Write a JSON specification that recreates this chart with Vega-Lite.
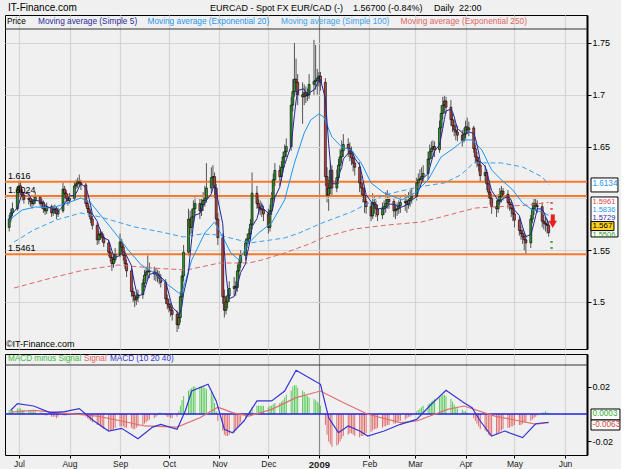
{
"$schema": "https://vega.github.io/schema/vega-lite/v6.json",
"background": "#f0f0f0",
"padding": {"left": 3, "top": 2, "right": 0, "bottom": 0},
"spacing": 3,
"resolve": {"scale": {"y": "independent"}},
"config": {"font": "Liberation Sans", "view": {"stroke": "#000", "strokeWidth": 1}},
"datasets": {
"daily": [
{"d":"2008-06-25","o":1.572,"h":1.584,"l":1.568,"c":1.580,"hs":0.003},
{"d":"2008-06-26","o":1.580,"h":1.590,"l":1.577,"c":1.586,"hs":0.003},
{"d":"2008-06-27","o":1.586,"h":1.596,"l":1.583,"c":1.590,"hs":0.003},
{"d":"2008-06-30","o":1.590,"h":1.612,"l":1.588,"c":1.608,"hs":0.004},
{"d":"2008-07-01","o":1.608,"h":1.617,"l":1.603,"c":1.612,"hs":0.004},
{"d":"2008-07-02","o":1.612,"h":1.616,"l":1.601,"c":1.606,"hs":0.004},
{"d":"2008-07-03","o":1.606,"h":1.609,"l":1.598,"c":1.603,"hs":0.003},
{"d":"2008-07-04","o":1.603,"h":1.606,"l":1.595,"c":1.599,"hs":0.003},
{"d":"2008-07-07","o":1.599,"h":1.605,"l":1.594,"c":1.600,"hs":0.003},
{"d":"2008-07-08","o":1.600,"h":1.603,"l":1.592,"c":1.597,"hs":0.002},
{"d":"2008-07-09","o":1.597,"h":1.600,"l":1.590,"c":1.595,"hs":0.002},
{"d":"2008-07-10","o":1.595,"h":1.603,"l":1.593,"c":1.598,"hs":0.002},
{"d":"2008-07-11","o":1.598,"h":1.606,"l":1.595,"c":1.601,"hs":0.002},
{"d":"2008-07-14","o":1.601,"h":1.603,"l":1.592,"c":1.595,"hs":0.001},
{"d":"2008-07-15","o":1.595,"h":1.600,"l":1.590,"c":1.596,"hs":0.001},
{"d":"2008-07-16","o":1.596,"h":1.598,"l":1.586,"c":1.590,"hs":0},
{"d":"2008-07-17","o":1.590,"h":1.594,"l":1.584,"c":1.588,"hs":-0.001},
{"d":"2008-07-18","o":1.588,"h":1.596,"l":1.585,"c":1.592,"hs":-0.001},
{"d":"2008-07-21","o":1.592,"h":1.594,"l":1.582,"c":1.586,"hs":-0.002},
{"d":"2008-07-22","o":1.586,"h":1.593,"l":1.583,"c":1.589,"hs":-0.002},
{"d":"2008-07-23","o":1.589,"h":1.594,"l":1.585,"c":1.590,"hs":-0.002},
{"d":"2008-07-24","o":1.590,"h":1.592,"l":1.580,"c":1.585,"hs":-0.003},
{"d":"2008-07-25","o":1.585,"h":1.591,"l":1.582,"c":1.588,"hs":-0.002},
{"d":"2008-07-28","o":1.588,"h":1.615,"l":1.586,"c":1.609,"hs":-0.001},
{"d":"2008-07-29","o":1.609,"h":1.612,"l":1.600,"c":1.605,"hs":-0.001},
{"d":"2008-07-30","o":1.605,"h":1.608,"l":1.596,"c":1.600,"hs":-0.001},
{"d":"2008-07-31","o":1.600,"h":1.604,"l":1.593,"c":1.598,"hs":0},
{"d":"2008-08-01","o":1.598,"h":1.605,"l":1.595,"c":1.600,"hs":0},
{"d":"2008-08-04","o":1.600,"h":1.616,"l":1.598,"c":1.612,"hs":0.001},
{"d":"2008-08-05","o":1.612,"h":1.618,"l":1.609,"c":1.614,"hs":0.001},
{"d":"2008-08-06","o":1.614,"h":1.620,"l":1.610,"c":1.616,"hs":0.001},
{"d":"2008-08-07","o":1.616,"h":1.623,"l":1.611,"c":1.615,"hs":0.001},
{"d":"2008-08-08","o":1.615,"h":1.618,"l":1.608,"c":1.613,"hs":0},
{"d":"2008-08-11","o":1.613,"h":1.615,"l":1.592,"c":1.595,"hs":-0.002},
{"d":"2008-08-12","o":1.595,"h":1.598,"l":1.586,"c":1.590,"hs":-0.003},
{"d":"2008-08-13","o":1.590,"h":1.593,"l":1.582,"c":1.586,"hs":-0.004},
{"d":"2008-08-14","o":1.586,"h":1.589,"l":1.576,"c":1.580,"hs":-0.005},
{"d":"2008-08-15","o":1.580,"h":1.583,"l":1.570,"c":1.574,"hs":-0.006},
{"d":"2008-08-18","o":1.574,"h":1.577,"l":1.555,"c":1.560,"hs":-0.008},
{"d":"2008-08-19","o":1.560,"h":1.569,"l":1.556,"c":1.565,"hs":-0.008},
{"d":"2008-08-20","o":1.565,"h":1.570,"l":1.560,"c":1.566,"hs":-0.009},
{"d":"2008-08-21","o":1.566,"h":1.568,"l":1.558,"c":1.562,"hs":-0.010},
{"d":"2008-08-22","o":1.562,"h":1.565,"l":1.553,"c":1.557,"hs":-0.011},
{"d":"2008-08-25","o":1.557,"h":1.560,"l":1.544,"c":1.548,"hs":-0.012},
{"d":"2008-08-26","o":1.548,"h":1.552,"l":1.539,"c":1.543,"hs":-0.012},
{"d":"2008-08-27","o":1.543,"h":1.547,"l":1.530,"c":1.537,"hs":-0.012},
{"d":"2008-08-28","o":1.537,"h":1.545,"l":1.533,"c":1.541,"hs":-0.011},
{"d":"2008-08-29","o":1.541,"h":1.552,"l":1.538,"c":1.546,"hs":-0.010},
{"d":"2008-09-01","o":1.546,"h":1.566,"l":1.543,"c":1.558,"hs":-0.009},
{"d":"2008-09-02","o":1.558,"h":1.561,"l":1.548,"c":1.553,"hs":-0.009},
{"d":"2008-09-03","o":1.553,"h":1.556,"l":1.540,"c":1.545,"hs":-0.009},
{"d":"2008-09-04","o":1.545,"h":1.549,"l":1.532,"c":1.537,"hs":-0.010},
{"d":"2008-09-05","o":1.537,"h":1.541,"l":1.524,"c":1.530,"hs":-0.010},
{"d":"2008-09-08","o":1.530,"h":1.533,"l":1.505,"c":1.510,"hs":-0.010},
{"d":"2008-09-09","o":1.510,"h":1.514,"l":1.500,"c":1.506,"hs":-0.011},
{"d":"2008-09-10","o":1.506,"h":1.510,"l":1.495,"c":1.502,"hs":-0.011},
{"d":"2008-09-11","o":1.502,"h":1.509,"l":1.497,"c":1.504,"hs":-0.010},
{"d":"2008-09-12","o":1.504,"h":1.512,"l":1.500,"c":1.507,"hs":-0.009},
{"d":"2008-09-15","o":1.507,"h":1.522,"l":1.503,"c":1.518,"hs":-0.008},
{"d":"2008-09-16","o":1.518,"h":1.531,"l":1.514,"c":1.526,"hs":-0.007},
{"d":"2008-09-17","o":1.526,"h":1.534,"l":1.520,"c":1.529,"hs":-0.006},
{"d":"2008-09-18","o":1.529,"h":1.545,"l":1.522,"c":1.530,"hs":-0.005},
{"d":"2008-09-19","o":1.530,"h":1.538,"l":1.523,"c":1.529,"hs":-0.004},
{"d":"2008-09-22","o":1.529,"h":1.534,"l":1.521,"c":1.527,"hs":-0.003},
{"d":"2008-09-23","o":1.527,"h":1.533,"l":1.520,"c":1.527,"hs":-0.002},
{"d":"2008-09-24","o":1.527,"h":1.531,"l":1.519,"c":1.525,"hs":-0.001},
{"d":"2008-09-25","o":1.525,"h":1.530,"l":1.517,"c":1.523,"hs":0.001},
{"d":"2008-09-26","o":1.523,"h":1.527,"l":1.514,"c":1.519,"hs":0.001},
{"d":"2008-09-29","o":1.519,"h":1.522,"l":1.498,"c":1.503,"hs":-0.001},
{"d":"2008-09-30","o":1.503,"h":1.507,"l":1.493,"c":1.498,"hs":-0.002},
{"d":"2008-10-01","o":1.498,"h":1.503,"l":1.490,"c":1.495,"hs":-0.002},
{"d":"2008-10-02","o":1.495,"h":1.499,"l":1.486,"c":1.492,"hs":-0.003},
{"d":"2008-10-03","o":1.492,"h":1.497,"l":1.482,"c":1.488,"hs":-0.003},
{"d":"2008-10-06","o":1.488,"h":1.492,"l":1.471,"c":1.478,"hs":-0.002},
{"d":"2008-10-07","o":1.478,"h":1.490,"l":1.474,"c":1.485,"hs":0.002},
{"d":"2008-10-08","o":1.485,"h":1.510,"l":1.480,"c":1.505,"hs":0.006},
{"d":"2008-10-09","o":1.505,"h":1.530,"l":1.500,"c":1.525,"hs":0.010},
{"d":"2008-10-10","o":1.525,"h":1.555,"l":1.520,"c":1.548,"hs":0.013},
{"d":"2008-10-13","o":1.548,"h":1.590,"l":1.545,"c":1.580,"hs":0.017},
{"d":"2008-10-14","o":1.580,"h":1.588,"l":1.565,"c":1.572,"hs":0.018},
{"d":"2008-10-15","o":1.572,"h":1.590,"l":1.566,"c":1.582,"hs":0.019},
{"d":"2008-10-16","o":1.582,"h":1.598,"l":1.575,"c":1.590,"hs":0.020},
{"d":"2008-10-17","o":1.590,"h":1.602,"l":1.584,"c":1.595,"hs":0.020},
{"d":"2008-10-20","o":1.595,"h":1.600,"l":1.580,"c":1.588,"hs":0.020},
{"d":"2008-10-21","o":1.588,"h":1.600,"l":1.583,"c":1.594,"hs":0.020},
{"d":"2008-10-22","o":1.594,"h":1.606,"l":1.588,"c":1.598,"hs":0.020},
{"d":"2008-10-23","o":1.598,"h":1.612,"l":1.592,"c":1.600,"hs":0.019},
{"d":"2008-10-24","o":1.600,"h":1.634,"l":1.596,"c":1.610,"hs":0.018},
{"d":"2008-10-27","o":1.610,"h":1.630,"l":1.605,"c":1.620,"hs":0.016},
{"d":"2008-10-28","o":1.620,"h":1.632,"l":1.612,"c":1.621,"hs":0.013},
{"d":"2008-10-29","o":1.621,"h":1.625,"l":1.600,"c":1.610,"hs":0.008},
{"d":"2008-10-30","o":1.610,"h":1.614,"l":1.574,"c":1.580,"hs":0.002},
{"d":"2008-10-31","o":1.580,"h":1.586,"l":1.555,"c":1.562,"hs":-0.005},
{"d":"2008-11-03","o":1.562,"h":1.566,"l":1.498,"c":1.505,"hs":-0.012},
{"d":"2008-11-04","o":1.505,"h":1.512,"l":1.485,"c":1.492,"hs":-0.015},
{"d":"2008-11-05","o":1.492,"h":1.506,"l":1.488,"c":1.500,"hs":-0.016},
{"d":"2008-11-06","o":1.500,"h":1.512,"l":1.494,"c":1.506,"hs":-0.016},
{"d":"2008-11-07","o":1.506,"h":1.520,"l":1.500,"c":1.513,"hs":-0.015},
{"d":"2008-11-10","o":1.513,"h":1.524,"l":1.506,"c":1.515,"hs":-0.014},
{"d":"2008-11-11","o":1.515,"h":1.520,"l":1.506,"c":1.514,"hs":-0.012},
{"d":"2008-11-12","o":1.514,"h":1.536,"l":1.510,"c":1.530,"hs":-0.010},
{"d":"2008-11-13","o":1.530,"h":1.542,"l":1.524,"c":1.538,"hs":-0.008},
{"d":"2008-11-14","o":1.538,"h":1.550,"l":1.533,"c":1.545,"hs":-0.006},
{"d":"2008-11-17","o":1.545,"h":1.561,"l":1.540,"c":1.557,"hs":-0.003},
{"d":"2008-11-18","o":1.557,"h":1.566,"l":1.552,"c":1.561,"hs":-0.001},
{"d":"2008-11-19","o":1.561,"h":1.571,"l":1.556,"c":1.566,"hs":0.001},
{"d":"2008-11-20","o":1.566,"h":1.580,"l":1.561,"c":1.575,"hs":0.003},
{"d":"2008-11-21","o":1.575,"h":1.625,"l":1.570,"c":1.605,"hs":0.005},
{"d":"2008-11-24","o":1.605,"h":1.612,"l":1.590,"c":1.595,"hs":0.006},
{"d":"2008-11-25","o":1.595,"h":1.602,"l":1.585,"c":1.591,"hs":0.006},
{"d":"2008-11-26","o":1.591,"h":1.598,"l":1.584,"c":1.590,"hs":0.006},
{"d":"2008-11-27","o":1.590,"h":1.596,"l":1.582,"c":1.589,"hs":0.006},
{"d":"2008-11-28","o":1.589,"h":1.593,"l":1.578,"c":1.585,"hs":0.006},
{"d":"2008-12-01","o":1.585,"h":1.590,"l":1.566,"c":1.572,"hs":0.005},
{"d":"2008-12-02","o":1.572,"h":1.594,"l":1.568,"c":1.588,"hs":0.006},
{"d":"2008-12-03","o":1.588,"h":1.606,"l":1.584,"c":1.600,"hs":0.006},
{"d":"2008-12-04","o":1.600,"h":1.624,"l":1.596,"c":1.618,"hs":0.007},
{"d":"2008-12-05","o":1.618,"h":1.634,"l":1.612,"c":1.627,"hs":0.008},
{"d":"2008-12-08","o":1.627,"h":1.632,"l":1.612,"c":1.621,"hs":0.008},
{"d":"2008-12-09","o":1.621,"h":1.636,"l":1.616,"c":1.630,"hs":0.009},
{"d":"2008-12-10","o":1.630,"h":1.645,"l":1.625,"c":1.640,"hs":0.010},
{"d":"2008-12-11","o":1.640,"h":1.652,"l":1.634,"c":1.645,"hs":0.012},
{"d":"2008-12-12","o":1.645,"h":1.658,"l":1.640,"c":1.650,"hs":0.014},
{"d":"2008-12-15","o":1.650,"h":1.698,"l":1.646,"c":1.690,"hs":0.017},
{"d":"2008-12-16","o":1.690,"h":1.715,"l":1.684,"c":1.703,"hs":0.020},
{"d":"2008-12-17","o":1.703,"h":1.750,"l":1.698,"c":1.715,"hs":0.021},
{"d":"2008-12-18","o":1.715,"h":1.735,"l":1.700,"c":1.712,"hs":0.021},
{"d":"2008-12-19","o":1.712,"h":1.720,"l":1.690,"c":1.700,"hs":0.019},
{"d":"2008-12-22","o":1.700,"h":1.712,"l":1.672,"c":1.698,"hs":0.017},
{"d":"2008-12-23","o":1.698,"h":1.710,"l":1.690,"c":1.702,"hs":0.016},
{"d":"2008-12-24","o":1.702,"h":1.708,"l":1.692,"c":1.699,"hs":0.014},
{"d":"2008-12-25","o":1.699,"h":1.706,"l":1.694,"c":1.700,"hs":0.013},
{"d":"2008-12-26","o":1.700,"h":1.720,"l":1.696,"c":1.710,"hs":0.012},
{"d":"2008-12-29","o":1.710,"h":1.753,"l":1.700,"c":1.713,"hs":0.011},
{"d":"2008-12-30","o":1.713,"h":1.748,"l":1.705,"c":1.714,"hs":0.010},
{"d":"2008-12-31","o":1.714,"h":1.725,"l":1.700,"c":1.716,"hs":0.009},
{"d":"2009-01-01","o":1.716,"h":1.722,"l":1.708,"c":1.718,"hs":0.008},
{"d":"2009-01-02","o":1.718,"h":1.722,"l":1.704,"c":1.712,"hs":0.006},
{"d":"2009-01-05","o":1.712,"h":1.716,"l":1.612,"c":1.621,"hs":-0.008},
{"d":"2009-01-06","o":1.621,"h":1.630,"l":1.596,"c":1.603,"hs":-0.015},
{"d":"2009-01-07","o":1.603,"h":1.618,"l":1.588,"c":1.610,"hs":-0.020},
{"d":"2009-01-08","o":1.610,"h":1.635,"l":1.604,"c":1.627,"hs":-0.022},
{"d":"2009-01-09","o":1.627,"h":1.632,"l":1.603,"c":1.610,"hs":-0.024},
{"d":"2009-01-12","o":1.610,"h":1.628,"l":1.606,"c":1.620,"hs":-0.023},
{"d":"2009-01-13","o":1.620,"h":1.638,"l":1.614,"c":1.632,"hs":-0.022},
{"d":"2009-01-14","o":1.632,"h":1.648,"l":1.626,"c":1.640,"hs":-0.020},
{"d":"2009-01-15","o":1.640,"h":1.656,"l":1.634,"c":1.646,"hs":-0.018},
{"d":"2009-01-16","o":1.646,"h":1.662,"l":1.640,"c":1.652,"hs":-0.016},
{"d":"2009-01-19","o":1.652,"h":1.658,"l":1.640,"c":1.648,"hs":-0.015},
{"d":"2009-01-20","o":1.648,"h":1.654,"l":1.636,"c":1.643,"hs":-0.014},
{"d":"2009-01-21","o":1.643,"h":1.650,"l":1.632,"c":1.639,"hs":-0.014},
{"d":"2009-01-22","o":1.639,"h":1.645,"l":1.626,"c":1.634,"hs":-0.015},
{"d":"2009-01-23","o":1.634,"h":1.640,"l":1.622,"c":1.630,"hs":-0.016},
{"d":"2009-01-26","o":1.630,"h":1.635,"l":1.606,"c":1.615,"hs":-0.017},
{"d":"2009-01-27","o":1.615,"h":1.622,"l":1.602,"c":1.610,"hs":-0.016},
{"d":"2009-01-28","o":1.610,"h":1.615,"l":1.596,"c":1.603,"hs":-0.016},
{"d":"2009-01-29","o":1.603,"h":1.610,"l":1.586,"c":1.597,"hs":-0.015},
{"d":"2009-01-30","o":1.597,"h":1.602,"l":1.585,"c":1.592,"hs":-0.014},
{"d":"2009-02-02","o":1.592,"h":1.596,"l":1.578,"c":1.583,"hs":-0.013},
{"d":"2009-02-03","o":1.583,"h":1.605,"l":1.580,"c":1.596,"hs":-0.012},
{"d":"2009-02-04","o":1.596,"h":1.602,"l":1.585,"c":1.594,"hs":-0.011},
{"d":"2009-02-05","o":1.594,"h":1.598,"l":1.582,"c":1.590,"hs":-0.011},
{"d":"2009-02-06","o":1.590,"h":1.594,"l":1.578,"c":1.584,"hs":-0.010},
{"d":"2009-02-09","o":1.584,"h":1.596,"l":1.580,"c":1.590,"hs":-0.010},
{"d":"2009-02-10","o":1.590,"h":1.598,"l":1.584,"c":1.592,"hs":-0.009},
{"d":"2009-02-11","o":1.592,"h":1.606,"l":1.586,"c":1.595,"hs":-0.009},
{"d":"2009-02-12","o":1.595,"h":1.608,"l":1.590,"c":1.599,"hs":-0.008},
{"d":"2009-02-13","o":1.599,"h":1.604,"l":1.590,"c":1.597,"hs":-0.008},
{"d":"2009-02-16","o":1.597,"h":1.600,"l":1.582,"c":1.588,"hs":-0.007},
{"d":"2009-02-17","o":1.588,"h":1.594,"l":1.580,"c":1.589,"hs":-0.007},
{"d":"2009-02-18","o":1.589,"h":1.596,"l":1.583,"c":1.590,"hs":-0.006},
{"d":"2009-02-19","o":1.590,"h":1.598,"l":1.585,"c":1.593,"hs":-0.005},
{"d":"2009-02-20","o":1.593,"h":1.602,"l":1.586,"c":1.596,"hs":-0.005},
{"d":"2009-02-23","o":1.596,"h":1.604,"l":1.588,"c":1.597,"hs":-0.004},
{"d":"2009-02-24","o":1.597,"h":1.602,"l":1.586,"c":1.594,"hs":-0.003},
{"d":"2009-02-25","o":1.594,"h":1.606,"l":1.590,"c":1.598,"hs":-0.002},
{"d":"2009-02-26","o":1.598,"h":1.608,"l":1.592,"c":1.600,"hs":-0.002},
{"d":"2009-02-27","o":1.600,"h":1.610,"l":1.595,"c":1.602,"hs":-0.001},
{"d":"2009-03-02","o":1.602,"h":1.620,"l":1.598,"c":1.615,"hs":0.002},
{"d":"2009-03-03","o":1.615,"h":1.624,"l":1.608,"c":1.618,"hs":0.003},
{"d":"2009-03-04","o":1.618,"h":1.628,"l":1.612,"c":1.619,"hs":0.004},
{"d":"2009-03-05","o":1.619,"h":1.630,"l":1.614,"c":1.621,"hs":0.005},
{"d":"2009-03-06","o":1.621,"h":1.632,"l":1.615,"c":1.624,"hs":0.006},
{"d":"2009-03-09","o":1.624,"h":1.645,"l":1.618,"c":1.638,"hs":0.007},
{"d":"2009-03-10","o":1.638,"h":1.652,"l":1.632,"c":1.645,"hs":0.008},
{"d":"2009-03-11","o":1.645,"h":1.655,"l":1.638,"c":1.648,"hs":0.009},
{"d":"2009-03-12","o":1.648,"h":1.656,"l":1.640,"c":1.650,"hs":0.010},
{"d":"2009-03-13","o":1.650,"h":1.655,"l":1.640,"c":1.647,"hs":0.011},
{"d":"2009-03-16","o":1.647,"h":1.675,"l":1.644,"c":1.668,"hs":0.012},
{"d":"2009-03-17","o":1.668,"h":1.690,"l":1.662,"c":1.682,"hs":0.013},
{"d":"2009-03-18","o":1.682,"h":1.698,"l":1.676,"c":1.690,"hs":0.014},
{"d":"2009-03-19","o":1.690,"h":1.699,"l":1.682,"c":1.694,"hs":0.014},
{"d":"2009-03-20","o":1.694,"h":1.698,"l":1.682,"c":1.688,"hs":0.013},
{"d":"2009-03-23","o":1.688,"h":1.695,"l":1.670,"c":1.676,"hs":0.011},
{"d":"2009-03-24","o":1.676,"h":1.682,"l":1.664,"c":1.670,"hs":0.009},
{"d":"2009-03-25","o":1.670,"h":1.676,"l":1.660,"c":1.666,"hs":0.007},
{"d":"2009-03-26","o":1.666,"h":1.672,"l":1.656,"c":1.664,"hs":0.005},
{"d":"2009-03-27","o":1.664,"h":1.670,"l":1.655,"c":1.661,"hs":0.004},
{"d":"2009-03-30","o":1.661,"h":1.666,"l":1.650,"c":1.656,"hs":0.003},
{"d":"2009-03-31","o":1.656,"h":1.668,"l":1.654,"c":1.662,"hs":0.002},
{"d":"2009-04-01","o":1.662,"h":1.675,"l":1.658,"c":1.669,"hs":0.002},
{"d":"2009-04-02","o":1.669,"h":1.678,"l":1.662,"c":1.666,"hs":0.001},
{"d":"2009-04-03","o":1.666,"h":1.674,"l":1.660,"c":1.668,"hs":0},
{"d":"2009-04-06","o":1.668,"h":1.670,"l":1.644,"c":1.648,"hs":-0.003},
{"d":"2009-04-07","o":1.648,"h":1.652,"l":1.634,"c":1.640,"hs":-0.005},
{"d":"2009-04-08","o":1.640,"h":1.645,"l":1.630,"c":1.636,"hs":-0.007},
{"d":"2009-04-09","o":1.636,"h":1.640,"l":1.626,"c":1.632,"hs":-0.009},
{"d":"2009-04-10","o":1.632,"h":1.636,"l":1.616,"c":1.622,"hs":-0.011},
{"d":"2009-04-13","o":1.622,"h":1.632,"l":1.615,"c":1.625,"hs":-0.012},
{"d":"2009-04-14","o":1.625,"h":1.628,"l":1.608,"c":1.614,"hs":-0.013},
{"d":"2009-04-15","o":1.614,"h":1.618,"l":1.600,"c":1.606,"hs":-0.015},
{"d":"2009-04-16","o":1.606,"h":1.610,"l":1.594,"c":1.600,"hs":-0.016},
{"d":"2009-04-17","o":1.600,"h":1.604,"l":1.585,"c":1.592,"hs":-0.016},
{"d":"2009-04-20","o":1.592,"h":1.598,"l":1.582,"c":1.590,"hs":-0.015},
{"d":"2009-04-21","o":1.590,"h":1.604,"l":1.586,"c":1.598,"hs":-0.014},
{"d":"2009-04-22","o":1.598,"h":1.610,"l":1.594,"c":1.602,"hs":-0.013},
{"d":"2009-04-23","o":1.602,"h":1.612,"l":1.596,"c":1.607,"hs":-0.012},
{"d":"2009-04-24","o":1.607,"h":1.610,"l":1.598,"c":1.604,"hs":-0.011},
{"d":"2009-04-27","o":1.604,"h":1.608,"l":1.590,"c":1.596,"hs":-0.010},
{"d":"2009-04-28","o":1.596,"h":1.602,"l":1.588,"c":1.594,"hs":-0.010},
{"d":"2009-04-29","o":1.594,"h":1.598,"l":1.582,"c":1.590,"hs":-0.009},
{"d":"2009-04-30","o":1.590,"h":1.594,"l":1.578,"c":1.585,"hs":-0.009},
{"d":"2009-05-01","o":1.585,"h":1.588,"l":1.572,"c":1.579,"hs":-0.008},
{"d":"2009-05-04","o":1.579,"h":1.582,"l":1.564,"c":1.569,"hs":-0.008},
{"d":"2009-05-05","o":1.569,"h":1.574,"l":1.560,"c":1.566,"hs":-0.008},
{"d":"2009-05-06","o":1.566,"h":1.570,"l":1.556,"c":1.563,"hs":-0.007},
{"d":"2009-05-07","o":1.563,"h":1.568,"l":1.550,"c":1.560,"hs":-0.006},
{"d":"2009-05-08","o":1.560,"h":1.565,"l":1.546,"c":1.557,"hs":-0.006},
{"d":"2009-05-11","o":1.557,"h":1.584,"l":1.552,"c":1.580,"hs":-0.005},
{"d":"2009-05-12","o":1.580,"h":1.596,"l":1.576,"c":1.590,"hs":-0.004},
{"d":"2009-05-13","o":1.590,"h":1.600,"l":1.584,"c":1.595,"hs":-0.003},
{"d":"2009-05-14","o":1.595,"h":1.600,"l":1.588,"c":1.593,"hs":-0.002},
{"d":"2009-05-15","o":1.593,"h":1.598,"l":1.586,"c":1.592,"hs":-0.001},
{"d":"2009-05-18","o":1.592,"h":1.596,"l":1.572,"c":1.578,"hs":0.001},
{"d":"2009-05-19","o":1.578,"h":1.584,"l":1.570,"c":1.576,"hs":0.001},
{"d":"2009-05-20","o":1.576,"h":1.582,"l":1.568,"c":1.575,"hs":0.002},
{"d":"2009-05-21","o":1.575,"h":1.580,"l":1.566,"c":1.574,"hs":0.001},
{"d":"2009-05-22","o":1.574,"h":1.578,"l":1.563,"c":1.567,"hs":0.0003}
],
"ema20": [
{"d":"2008-06-25","v":1.5792},{"d":"2008-07-03","v":1.5888},{"d":"2008-07-11","v":1.5917},{"d":"2008-07-21","v":1.5907},{"d":"2008-07-31","v":1.5956},{"d":"2008-08-08","v":1.6004},{"d":"2008-08-14","v":1.5956},{"d":"2008-08-21","v":1.582},{"d":"2008-08-29","v":1.5666},{"d":"2008-09-06","v":1.5502},{"d":"2008-09-14","v":1.5357},{"d":"2008-09-22","v":1.528},{"d":"2008-09-29","v":1.5183},{"d":"2008-10-07","v":1.5087},{"d":"2008-10-09","v":1.509},{"d":"2008-10-15","v":1.5405},{"d":"2008-10-23","v":1.5666},{"d":"2008-10-29","v":1.5772},{"d":"2008-11-03","v":1.5627},{"d":"2008-11-08","v":1.5473},{"d":"2008-11-13","v":1.5405},{"d":"2008-11-19","v":1.557},{"d":"2008-11-25","v":1.5666},{"d":"2008-12-03","v":1.5763},{"d":"2008-12-11","v":1.5985},{"d":"2008-12-17","v":1.6342},{"d":"2008-12-23","v":1.6631},{"d":"2008-12-27","v":1.6757},{"d":"2009-01-01","v":1.6815},{"d":"2009-01-04","v":1.6786},{"d":"2009-01-09","v":1.6593},{"d":"2009-01-15","v":1.6496},{"d":"2009-01-21","v":1.6467},{"d":"2009-01-27","v":1.6342},{"d":"2009-02-02","v":1.6149},{"d":"2009-02-10","v":1.6052},{"d":"2009-02-21","v":1.5985},{"d":"2009-03-01","v":1.6052},{"d":"2009-03-09","v":1.6178},{"d":"2009-03-17","v":1.64},{"d":"2009-03-25","v":1.6487},{"d":"2009-03-31","v":1.6564},{"d":"2009-04-05","v":1.6564},{"d":"2009-04-11","v":1.6467},{"d":"2009-04-17","v":1.6274},{"d":"2009-04-23","v":1.6178},{"d":"2009-04-30","v":1.6081},{"d":"2009-05-06","v":1.5956},{"d":"2009-05-12","v":1.5888},{"d":"2009-05-18","v":1.5869},{"d":"2009-05-22","v":1.5836}
],
"sma100": [
{"d":"2008-06-28","v":1.5579},{"d":"2008-07-10","v":1.5695},{"d":"2008-07-24","v":1.5792},{"d":"2008-08-08","v":1.5859},{"d":"2008-08-20","v":1.582},{"d":"2008-09-10","v":1.5724},{"d":"2008-09-26","v":1.5676},{"d":"2008-10-10","v":1.5627},{"d":"2008-10-21","v":1.5656},{"d":"2008-10-31","v":1.5647},{"d":"2008-11-20","v":1.557},{"d":"2008-12-11","v":1.5618},{"d":"2008-12-20","v":1.5666},{"d":"2009-01-03","v":1.5763},{"d":"2009-01-21","v":1.5869},{"d":"2009-02-10","v":1.6033},{"d":"2009-03-03","v":1.611},{"d":"2009-03-19","v":1.6149},{"d":"2009-03-29","v":1.6226},{"d":"2009-04-06","v":1.6342},{"d":"2009-04-23","v":1.6342},{"d":"2009-05-06","v":1.6303},{"d":"2009-05-18","v":1.6207},{"d":"2009-05-22","v":1.6134}
],
"ema250": [
{"d":"2008-06-28","v":1.5135},{"d":"2008-07-21","v":1.5232},{"d":"2008-08-10","v":1.5309},{"d":"2008-08-31","v":1.5357},{"d":"2008-09-20","v":1.5328},{"d":"2008-10-12","v":1.5309},{"d":"2008-11-01","v":1.5376},{"d":"2008-11-19","v":1.5376},{"d":"2008-11-27","v":1.5405},{"d":"2008-12-11","v":1.5473},{"d":"2008-12-27","v":1.5565},{"d":"2009-01-04","v":1.5625},{"d":"2009-01-23","v":1.5705},{"d":"2009-02-12","v":1.5743},{"d":"2009-03-05","v":1.5772},{"d":"2009-03-17","v":1.582},{"d":"2009-04-07","v":1.5907},{"d":"2009-04-27","v":1.5925},{"d":"2009-05-09","v":1.5935},{"d":"2009-05-22","v":1.5961}
],
"macd": [
{"d":"2008-06-26","v":0.0027},{"d":"2008-06-30","v":0.0075},{"d":"2008-07-10","v":0.0058},{"d":"2008-07-20","v":0.001},{"d":"2008-07-29","v":0.0017},{"d":"2008-08-07","v":0.0039},{"d":"2008-08-16","v":-0.0051},{"d":"2008-08-25","v":-0.0124},{"d":"2008-09-02","v":-0.0104},{"d":"2008-09-12","v":-0.018},{"d":"2008-09-21","v":-0.0095},{"d":"2008-09-26","v":-0.0075},{"d":"2008-10-06","v":-0.0111},{"d":"2008-10-11","v":0.0022},{"d":"2008-10-15","v":0.0167},{"d":"2008-10-25","v":0.0216},{"d":"2008-10-30","v":0.0095},{"d":"2008-11-04","v":-0.0111},{"d":"2008-11-09","v":-0.0136},{"d":"2008-11-16","v":-0.0051},{"d":"2008-11-24","v":0.0095},{"d":"2008-12-03","v":0.0095},{"d":"2008-12-11","v":0.0167},{"d":"2008-12-18","v":0.0318},{"d":"2008-12-26","v":0.0264},{"d":"2009-01-02","v":0.0216},{"d":"2009-01-07","v":-0.0027},{"d":"2009-01-13","v":-0.0136},{"d":"2009-01-19","v":-0.0087},{"d":"2009-01-26","v":-0.0124},{"d":"2009-01-31","v":-0.016},{"d":"2009-02-10","v":-0.0124},{"d":"2009-02-20","v":-0.0075},{"d":"2009-03-02","v":-0.0039},{"d":"2009-03-11","v":0.0071},{"d":"2009-03-20","v":0.0172},{"d":"2009-03-31","v":0.0082},{"d":"2009-04-05","v":0.0046},{"d":"2009-04-10","v":-0.0051},{"d":"2009-04-17","v":-0.016},{"d":"2009-04-25","v":-0.0124},{"d":"2009-05-06","v":-0.0172},{"d":"2009-05-14","v":-0.0071},{"d":"2009-05-22","v":-0.006}
],
"sig": [
{"d":"2008-06-26","v":0.0014},{"d":"2008-07-10","v":0.0027},{"d":"2008-07-29","v":0.0007},{"d":"2008-08-18","v":-0.0015},{"d":"2008-09-02","v":-0.0051},{"d":"2008-09-16","v":-0.0087},{"d":"2008-10-06","v":-0.0095},{"d":"2008-10-20","v":-0.0027},{"d":"2008-10-31","v":0.005},{"d":"2008-11-09","v":0.001},{"d":"2008-11-19","v":-0.0015},{"d":"2008-12-03","v":0.0034},{"d":"2008-12-18","v":0.0119},{"d":"2009-01-02","v":0.0167},{"d":"2009-01-14","v":0.0095},{"d":"2009-01-31","v":-0.0002},{"d":"2009-02-20","v":-0.0063},{"d":"2009-03-02","v":-0.0051},{"d":"2009-03-21","v":0.0034},{"d":"2009-03-31","v":0.0058},{"d":"2009-04-19","v":-0.0015},{"d":"2009-05-04","v":-0.0051},{"d":"2009-05-14","v":-0.0073},{"d":"2009-05-22","v":-0.0063}
],
"levels": [{"v":1.616,"t":"1.616"},{"v":1.6024,"t":"1.6024"},{"v":1.5461,"t":"1.5461"}],
"piv": [{"v":1.5956,"k":"r"},{"v":1.5898,"k":"r"},{"v":1.5579,"k":"g"},{"v":1.5521,"k":"g"}]
},
"vconcat": [
{
"width": 582, "height": 334,
"layer": [
{"data": {"name": "daily"}, "mark": {"type": "rule", "color": "#555", "strokeWidth": 1},
 "encoding": {
  "x": {"field": "d", "type": "temporal", "title": null,
   "scale": {"type": "utc", "nice": false, "padding": 0, "domain": [{"year":2008,"month":6,"date":22,"hours":10,"utc":true},{"year":2009,"month":6,"date":14,"hours":12,"utc":true}]},
   "axis": {"title": null, "labels": false, "ticks": false, "domain": false, "grid": true, "gridWidth": 1.2,
    "gridColor": {"condition": {"test": "utcmonth(datum.value) == 0", "value": "#8a8a8a"}, "value": "#d4d4d4"},
    "values": [{"year":2008,"month":7,"date":1,"utc":true},{"year":2008,"month":8,"date":1,"utc":true},{"year":2008,"month":9,"date":1,"utc":true},{"year":2008,"month":10,"date":1,"utc":true},{"year":2008,"month":11,"date":1,"utc":true},{"year":2008,"month":12,"date":1,"utc":true},{"year":2009,"month":1,"date":1,"utc":true},{"year":2009,"month":2,"date":1,"utc":true},{"year":2009,"month":3,"date":1,"utc":true},{"year":2009,"month":4,"date":1,"utc":true},{"year":2009,"month":5,"date":1,"utc":true},{"year":2009,"month":6,"date":1,"utc":true}]}},
  "y": {"field": "l", "type": "quantitative", "title": null,
   "scale": {"domain": [1.4546, 1.777], "nice": false, "zero": false},
   "axis": {"title": null, "orient": "right", "values": [1.5, 1.55, 1.65, 1.7, 1.75], "format": ".2~f", "grid": true, "gridColor": "#d4d4d4", "gridWidth": 1.2, "domain": true, "domainColor": "#000", "domainWidth": 2, "tickColor": "#000", "tickSize": 4, "labelFontSize": 9, "labelColor": "#000", "labelPadding": 1}},
  "y2": {"field": "h"}
 }},
{"data": {"values": [{}]}, "mark": {"type": "rule", "color": "#d4d4d4", "strokeWidth": 1.2}, "encoding": {"y": {"datum": 1.6}}},
{"data": {"name": "levels"}, "mark": {"type": "rule", "color": "#f47a2c", "strokeWidth": 2}, "encoding": {"y": {"field": "v", "type": "quantitative", "title": null}}},
{"data": {"values": [{}]}, "mark": {"type": "rule", "color": "#333", "strokeWidth": 1}, "encoding": {"y": {"datum": 1.7635}}},
{"data": {"name": "daily"}, "mark": {"type": "bar", "width": 2, "stroke": "#000", "strokeWidth": 0.6},
 "encoding": {"x": {"field": "d", "type": "temporal", "title": null}, "y": {"field": "o", "type": "quantitative", "title": null}, "y2": {"field": "c"},
  "fill": {"condition": {"test": "datum.c >= datum.o", "value": "#2f9a2f"}, "value": "#c04444"}}},
{"data": {"name": "ema250"}, "mark": {"type": "line", "color": "#e06464", "strokeWidth": 1, "strokeDash": [5, 3]}, "encoding": {"x": {"field": "d", "type": "temporal", "title": null}, "y": {"field": "v", "type": "quantitative", "title": null}}},
{"data": {"name": "sma100"}, "mark": {"type": "line", "color": "#3aa0ee", "strokeWidth": 1, "strokeDash": [5, 3]}, "encoding": {"x": {"field": "d", "type": "temporal", "title": null}, "y": {"field": "v", "type": "quantitative", "title": null}}},
{"data": {"name": "ema20"}, "mark": {"type": "line", "color": "#1e96f0", "strokeWidth": 1}, "encoding": {"x": {"field": "d", "type": "temporal", "title": null}, "y": {"field": "v", "type": "quantitative", "title": null}}},
{"data": {"name": "daily"}, "transform": [{"window": [{"op": "mean", "field": "c", "as": "s5"}], "frame": [-4, 0], "sort": [{"field": "d"}]}],
 "mark": {"type": "line", "color": "#23239a", "strokeWidth": 1}, "encoding": {"x": {"field": "d", "type": "temporal", "title": null}, "y": {"field": "s5", "type": "quantitative", "title": null}}},
{"data": {"name": "levels"}, "mark": {"type": "text", "align": "left", "baseline": "middle", "dy": -6, "fontSize": 9, "color": "#000"},
 "encoding": {"x": {"datum": {"year":2008,"month":6,"date":24,"hours":6,"utc":true}, "type": "temporal"}, "y": {"field": "v", "type": "quantitative", "title": null}, "text": {"field": "t"}}},
{"data": {"name": "piv"}, "mark": {"type": "rule", "strokeWidth": 1.5},
 "encoding": {"x": {"datum": {"year":2009,"month":5,"date":23,"utc":true}, "type": "temporal"}, "x2": {"datum": {"year":2009,"month":5,"date":24,"hours":12,"utc":true}}, "y": {"field": "v", "type": "quantitative", "title": null},
  "color": {"condition": {"test": "datum.k == 'r'", "value": "#e03030"}, "value": "#208a20"}}},
{"data": {"values": [{}]}, "mark": {"type": "rule", "color": "#e82020", "strokeWidth": 4},
 "encoding": {"x": {"datum": {"year":2009,"month":5,"date":24,"hours":12,"utc":true}, "type": "temporal"}, "y": {"datum": 1.5845}, "y2": {"datum": 1.5775}}},
{"data": {"values": [{}]}, "mark": {"type": "point", "shape": "triangle-down", "size": 70, "filled": true, "color": "#e82020", "opacity": 1},
 "encoding": {"x": {"datum": {"year":2009,"month":5,"date":24,"hours":12,"utc":true}, "type": "temporal"}, "y": {"datum": 1.5748}}},
{"data": {"values": [{}]}, "mark": {"type": "text", "align": "left", "baseline": "middle", "fontSize": 10, "color": "#000"},
 "encoding": {"x": {"datum": {"year":2008,"month":6,"date":24,"hours":6,"utc":true}, "type": "temporal"}, "y": {"datum": 1.7838}, "text": {"value": "IT-Finance.com"}}},
{"data": {"values": [{}]}, "mark": {"type": "text", "align": "left", "baseline": "middle", "fontSize": 9, "color": "#000"},
 "encoding": {"x": {"datum": {"year":2008,"month":10,"date":26,"hours":4,"utc":true}, "type": "temporal"}, "y": {"datum": 1.7838}, "text": {"value": "EURCAD - Spot FX EUR/CAD (-)"}}},
{"data": {"values": [{}]}, "mark": {"type": "text", "align": "left", "baseline": "middle", "fontSize": 9, "color": "#000"},
 "encoding": {"x": {"datum": {"year":2009,"month":1,"date":21,"hours":22,"utc":true}, "type": "temporal"}, "y": {"datum": 1.7838}, "text": {"value": "1.56700 (-0.84%)"}}},
{"data": {"values": [{}]}, "mark": {"type": "text", "align": "left", "baseline": "middle", "fontSize": 9, "color": "#000"},
 "encoding": {"x": {"datum": {"year":2009,"month":3,"date":12,"hours":14,"utc":true}, "type": "temporal"}, "y": {"datum": 1.7838}, "text": {"value": "Daily\u00a0\u00a022:00"}}},
{"data": {"values": [{}]}, "mark": {"type": "text", "align": "left", "baseline": "middle", "fontSize": 8.3, "color": "#000"},
 "encoding": {"x": {"datum": {"year":2008,"month":6,"date":23,"hours":15,"utc":true}, "type": "temporal"}, "y": {"datum": 1.7703}, "text": {"value": "Price"}}},
{"data": {"values": [{}]}, "mark": {"type": "text", "align": "left", "baseline": "middle", "fontSize": 8.3, "color": "#2a2aa0"},
 "encoding": {"x": {"datum": {"year":2008,"month":7,"date":12,"hours":16,"utc":true}, "type": "temporal"}, "y": {"datum": 1.7703}, "text": {"value": "Moving average (Simple 5)"}}},
{"data": {"values": [{}]}, "mark": {"type": "text", "align": "left", "baseline": "middle", "fontSize": 8.3, "color": "#1e96f0"},
 "encoding": {"x": {"datum": {"year":2008,"month":9,"date":17,"hours":20,"utc":true}, "type": "temporal"}, "y": {"datum": 1.7703}, "text": {"value": "Moving average (Exponential 20)"}}},
{"data": {"values": [{}]}, "mark": {"type": "text", "align": "left", "baseline": "middle", "fontSize": 8.3, "color": "#3aa0ee"},
 "encoding": {"x": {"datum": {"year":2008,"month":12,"date":8,"hours":18,"utc":true}, "type": "temporal"}, "y": {"datum": 1.7703}, "text": {"value": "Moving average (Simple 100)"}}},
{"data": {"values": [{}]}, "mark": {"type": "text", "align": "left", "baseline": "middle", "fontSize": 8.3, "color": "#e06464"},
 "encoding": {"x": {"datum": {"year":2009,"month":2,"date":20,"hours":3,"utc":true}, "type": "temporal"}, "y": {"datum": 1.7703}, "text": {"value": "Moving average (Exponential 250)"}}},
{"data": {"values": [{}]}, "mark": {"type": "text", "align": "left", "baseline": "middle", "fontSize": 9, "color": "#000"},
 "encoding": {"x": {"datum": {"year":2008,"month":6,"date":23,"hours":0,"utc":true}, "type": "temporal"}, "y": {"datum": 1.4595}, "text": {"value": "©IT-Finance.com"}}},
{"data": {"values": [{}]}, "mark": {"type": "rect", "fill": "#fff", "stroke": "#000", "strokeWidth": 1},
 "encoding": {"x": {"datum": {"year":2009,"month":6,"date":16,"hours":23,"utc":true}, "type": "temporal"}, "x2": {"datum": {"year":2009,"month":7,"date":3,"hours":12,"utc":true}}, "y": {"datum": 1.61969}, "y2": {"datum": 1.60618}}},
{"data": {"values": [{}]}, "mark": {"type": "rect", "fill": "#fff", "stroke": "#000", "strokeWidth": 1},
 "encoding": {"x": {"datum": {"year":2009,"month":6,"date":16,"hours":23,"utc":true}, "type": "temporal"}, "x2": {"datum": {"year":2009,"month":7,"date":3,"hours":12,"utc":true}}, "y": {"datum": 1.60135}, "y2": {"datum": 1.56275}}},
{"data": {"values": [{}]}, "mark": {"type": "text", "align": "left", "baseline": "middle", "fontSize": 8.2, "color": "#1e96f0"},
 "encoding": {"x": {"datum": {"year":2009,"month":6,"date":17,"hours":20,"utc":true}, "type": "temporal"}, "y": {"datum": 1.6134}, "text": {"value": "1.6134"}}},
{"data": {"values": [{}]}, "mark": {"type": "text", "align": "left", "baseline": "middle", "fontSize": 7.5, "color": "#e03c3c"},
 "encoding": {"x": {"datum": {"year":2009,"month":6,"date":17,"hours":20,"utc":true}, "type": "temporal"}, "y": {"datum": 1.5961}, "text": {"value": "1.5961"}}},
{"data": {"values": [{}]}, "mark": {"type": "text", "align": "left", "baseline": "middle", "fontSize": 7.5, "color": "#1e96f0", "dy": -4.9},
 "encoding": {"x": {"datum": {"year":2009,"month":6,"date":17,"hours":20,"utc":true}, "type": "temporal"}, "y": {"datum": 1.5836}, "text": {"value": "1.5836"}}},
{"data": {"values": [{}]}, "mark": {"type": "text", "align": "left", "baseline": "middle", "fontSize": 7.5, "color": "#2a2aa0", "dy": -8},
 "encoding": {"x": {"datum": {"year":2009,"month":6,"date":17,"hours":20,"utc":true}, "type": "temporal"}, "y": {"datum": 1.5729}, "text": {"value": "1.5729"}}},
{"data": {"values": [{}]}, "mark": {"type": "text", "align": "left", "baseline": "middle", "fontSize": 7.5, "color": "#2f9a2f", "dy": -15},
 "encoding": {"x": {"datum": {"year":2009,"month":6,"date":17,"hours":20,"utc":true}, "type": "temporal"}, "y": {"datum": 1.5506}, "text": {"value": "1.5506"}}},
{"data": {"values": [{}]}, "mark": {"type": "rect", "fill": "#ffd21f", "stroke": "#000", "strokeWidth": 1},
 "encoding": {"x": {"datum": {"year":2009,"month":6,"date":16,"hours":23,"utc":true}, "type": "temporal"}, "x2": {"datum": {"year":2009,"month":7,"date":1,"hours":1,"utc":true}}, "y": {"datum": 1.5776}, "y2": {"datum": 1.5689}}},
{"data": {"values": [{}]}, "mark": {"type": "text", "align": "left", "baseline": "middle", "fontSize": 8, "color": "#000", "dy": -6.5},
 "encoding": {"x": {"datum": {"year":2009,"month":6,"date":17,"hours":20,"utc":true}, "type": "temporal"}, "y": {"datum": 1.567}, "text": {"value": "1.567"}}}
]
},
{
"width": 582, "height": 101,
"layer": [
{"data": {"name": "daily"}, "mark": {"type": "rule", "strokeWidth": 1},
 "encoding": {
  "x": {"field": "d", "type": "temporal", "title": null,
   "scale": {"type": "utc", "nice": false, "padding": 0, "domain": [{"year":2008,"month":6,"date":22,"hours":10,"utc":true},{"year":2009,"month":6,"date":14,"hours":12,"utc":true}]},
   "axis": {"title": null, "orient": "bottom", "domain": false, "grid": true, "gridWidth": 1.2,
    "gridColor": {"condition": {"test": "utcmonth(datum.value) == 0", "value": "#8a8a8a"}, "value": "#d4d4d4"},
    "ticks": true, "tickColor": "#000", "tickSize": 3, "labelPadding": 1, "labelColor": "#222",
    "labelFontSize": {"condition": {"test": "utcmonth(datum.value) == 0", "value": 9.5}, "value": 8.5},
    "labelFontWeight": {"condition": {"test": "utcmonth(datum.value) == 0", "value": "bold"}, "value": "normal"},
    "labelExpr": "utcmonth(datum.value) == 0 ? '2009' : utcFormat(datum.value, '%b')",
    "values": [{"year":2008,"month":7,"date":1,"utc":true},{"year":2008,"month":8,"date":1,"utc":true},{"year":2008,"month":9,"date":1,"utc":true},{"year":2008,"month":10,"date":1,"utc":true},{"year":2008,"month":11,"date":1,"utc":true},{"year":2008,"month":12,"date":1,"utc":true},{"year":2009,"month":1,"date":1,"utc":true},{"year":2009,"month":2,"date":1,"utc":true},{"year":2009,"month":3,"date":1,"utc":true},{"year":2009,"month":4,"date":1,"utc":true},{"year":2009,"month":5,"date":1,"utc":true},{"year":2009,"month":6,"date":1,"utc":true}]}},
  "y": {"field": "hs", "type": "quantitative", "title": null,
   "scale": {"domain": [-0.02982, 0.04364], "nice": false, "zero": false},
   "axis": {"title": null, "orient": "right", "values": [-0.02, 0.02], "labelExpr": "(datum.value < 0 ? '-' : '') + format(abs(datum.value), '.2f')", "grid": false, "domain": true, "domainColor": "#000", "domainWidth": 2, "tickColor": "#000", "tickSize": 4, "labelFontSize": 9, "labelColor": "#000", "labelPadding": 1}},
  "y2": {"datum": 0},
  "color": {"condition": {"test": "datum.hs > 0", "value": "#5acd5a"}, "value": "#e06c6c"}
 }},
{"data": {"values": [{}]}, "mark": {"type": "rule", "color": "#2020e0", "strokeWidth": 1.5}, "encoding": {"y": {"datum": 0}}},
{"data": {"name": "sig"}, "mark": {"type": "line", "color": "#e07070", "strokeWidth": 1.2}, "encoding": {"x": {"field": "d", "type": "temporal", "title": null}, "y": {"field": "v", "type": "quantitative", "title": null}}},
{"data": {"name": "macd"}, "mark": {"type": "line", "color": "#3535d5", "strokeWidth": 1.2}, "encoding": {"x": {"field": "d", "type": "temporal", "title": null}, "y": {"field": "v", "type": "quantitative", "title": null}}},
{"data": {"values": [{}]}, "mark": {"type": "rule", "color": "#333", "strokeWidth": 1}, "encoding": {"y": {"datum": 0.03564}}},
{"data": {"values": [{}]}, "mark": {"type": "text", "align": "left", "baseline": "middle", "fontSize": 8.2, "color": "#3cbc3c"},
 "encoding": {"x": {"datum": {"year":2008,"month":6,"date":24,"hours":6,"utc":true}, "type": "temporal"}, "y": {"datum": 0.03964}, "text": {"value": "MACD minus Signal"}}},
{"data": {"values": [{}]}, "mark": {"type": "text", "align": "left", "baseline": "middle", "fontSize": 8.2, "color": "#e06464"},
 "encoding": {"x": {"datum": {"year":2008,"month":8,"date":9,"hours":21,"utc":true}, "type": "temporal"}, "y": {"datum": 0.03964}, "text": {"value": "Signal"}}},
{"data": {"values": [{}]}, "mark": {"type": "text", "align": "left", "baseline": "middle", "fontSize": 8.2, "color": "#3535d5"},
 "encoding": {"x": {"datum": {"year":2008,"month":8,"date":25,"hours":20,"utc":true}, "type": "temporal"}, "y": {"datum": 0.03964}, "text": {"value": "MACD (10 20 40)"}}},
{"data": {"values": [{}]}, "mark": {"type": "rect", "fill": "#fff", "stroke": "#000", "strokeWidth": 1},
 "encoding": {"x": {"datum": {"year":2009,"month":6,"date":16,"hours":23,"utc":true}, "type": "temporal"}, "x2": {"datum": {"year":2009,"month":7,"date":4,"hours":17,"utc":true}}, "y": {"datum": 0.00364}, "y2": {"datum": -0.00436}}},
{"data": {"values": [{}]}, "mark": {"type": "rect", "fill": "#fff", "stroke": "#000", "strokeWidth": 1},
 "encoding": {"x": {"datum": {"year":2009,"month":6,"date":16,"hours":23,"utc":true}, "type": "temporal"}, "x2": {"datum": {"year":2009,"month":7,"date":4,"hours":17,"utc":true}}, "y": {"datum": -0.00436}, "y2": {"datum": -0.01164}}},
{"data": {"values": [{}]}, "mark": {"type": "text", "align": "left", "baseline": "middle", "fontSize": 8.2, "color": "#2faa2f"},
 "encoding": {"x": {"datum": {"year":2009,"month":6,"date":17,"hours":20,"utc":true}, "type": "temporal"}, "y": {"datum": 0.0003}, "text": {"value": "0.0003"}}},
{"data": {"values": [{}]}, "mark": {"type": "text", "align": "left", "baseline": "middle", "fontSize": 8.2, "color": "#d04040", "dy": 2},
 "encoding": {"x": {"datum": {"year":2009,"month":6,"date":17,"hours":20,"utc":true}, "type": "temporal"}, "y": {"datum": -0.0063}, "text": {"value": "-0.0063"}}}
]
}
]
}
